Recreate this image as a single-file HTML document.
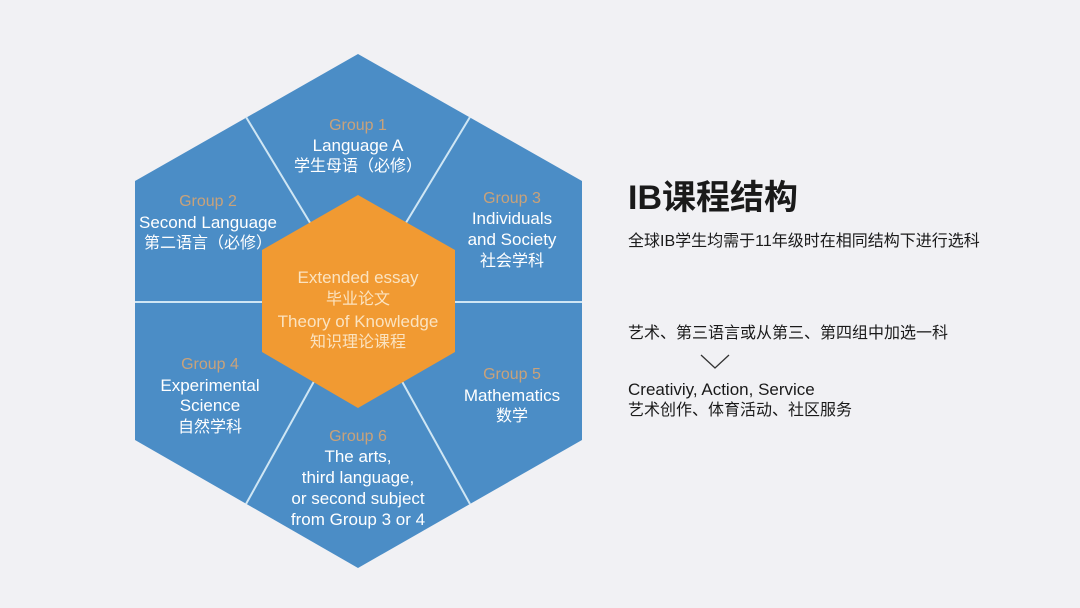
<!DOCTYPE html>
<html><head><meta charset="utf-8"><style>
html,body{margin:0;padding:0;background:#f1f1f4;}
svg{display:block}
</style></head><body>
<svg width="1080" height="608" viewBox="0 0 1080 608" xmlns="http://www.w3.org/2000/svg">
<rect width="1080" height="608" fill="#f1f1f4"/>
<polygon points="358,54 582,181 582,440 358,568 135,440 135,181" fill="#4b8dc6"/>
<g stroke="#cfe6f4" stroke-width="2">
<line x1="358" y1="302" x2="246" y2="117"/>
<line x1="358" y1="302" x2="470" y2="117"/>
<line x1="358" y1="302" x2="135" y2="302"/>
<line x1="358" y1="302" x2="582" y2="302"/>
<line x1="358" y1="302" x2="246" y2="504"/>
<line x1="358" y1="302" x2="470" y2="504"/>
</g>
<polygon points="358,195 455,250 455,352 358,408 262,352 262,250" fill="#f19a32"/>
<g font-family="Liberation Sans, Noto Sans CJK SC, sans-serif" font-size="17" text-anchor="middle" fill="#ffffff">
<text x="358" y="130" font-size="16" fill="#c9a27a">Group 1</text>
<text x="358" y="151">Language A</text>
<text x="358" y="171" font-size="16">学生母语（必修）</text>
<text x="208" y="206" font-size="16" fill="#c9a27a">Group 2</text>
<text x="208" y="228">Second Language</text>
<text x="208" y="248" font-size="16">第二语言（必修）</text>
<text x="512" y="203" font-size="16" fill="#c9a27a">Group 3</text>
<text x="512" y="224">Individuals</text>
<text x="512" y="245">and Society</text>
<text x="512" y="266" font-size="16">社会学科</text>
<text x="210" y="369" font-size="16" fill="#c9a27a">Group 4</text>
<text x="210" y="391">Experimental</text>
<text x="210" y="411">Science</text>
<text x="210" y="432" font-size="16">自然学科</text>
<text x="512" y="379" font-size="16" fill="#c9a27a">Group 5</text>
<text x="512" y="401">Mathematics</text>
<text x="512" y="421" font-size="16">数学</text>
<text x="358" y="441" font-size="16" fill="#c9a27a">Group 6</text>
<text x="358" y="462">The arts,</text>
<text x="358" y="483">third language,</text>
<text x="358" y="504">or second subject</text>
<text x="358" y="525">from Group 3 or 4</text>
<g fill="#fbe3c0">
<text x="358" y="283">Extended essay</text>
<text x="358" y="304" font-size="16">毕业论文</text>
<text x="358" y="327">Theory of Knowledge</text>
<text x="358" y="347" font-size="16">知识理论课程</text>
</g>
</g>
<g font-family="Liberation Sans, Noto Sans CJK SC, sans-serif" fill="#1a1a1a">
<text x="628" y="209" font-size="34" font-weight="bold">IB课程结构</text>
<text x="628" y="246" font-size="16">全球IB学生均需于11年级时在相同结构下进行选科</text>
<text x="628" y="338" font-size="16">艺术、第三语言或从第三、第四组中加选一科</text>
<text x="628" y="395" font-size="17">Creativiy, Action, Service</text>
<text x="628" y="415" font-size="16">艺术创作、体育活动、社区服务</text>
</g>
<polyline points="701,355 715,368 729,355" fill="none" stroke="#333" stroke-width="1.3"/>
</svg>
</body></html>
